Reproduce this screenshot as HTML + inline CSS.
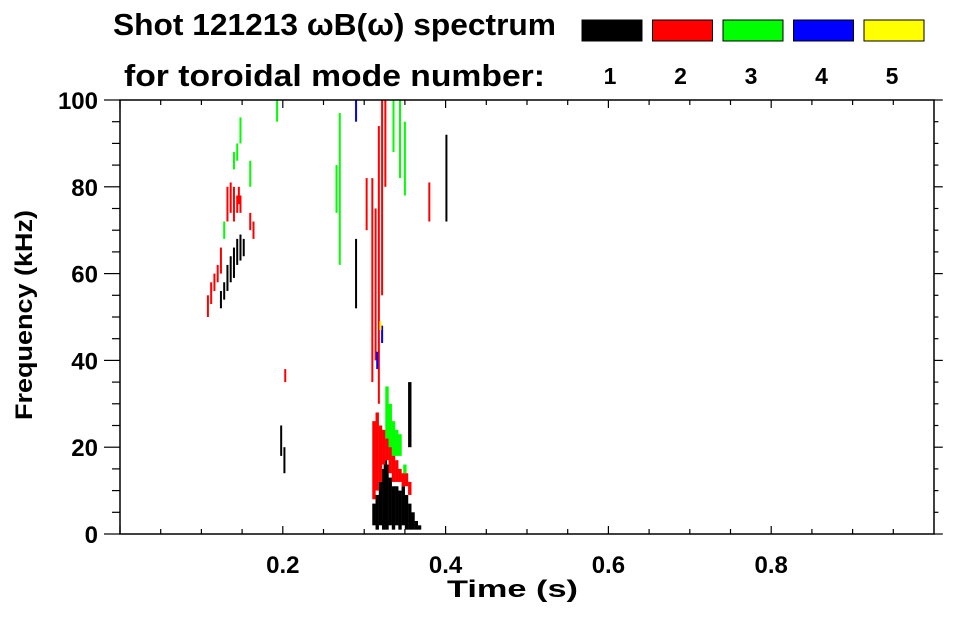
<!DOCTYPE html>
<html><head><meta charset="utf-8"><style>
body{margin:0;background:#fff;width:963px;height:615px;overflow:hidden}
svg{font-family:"Liberation Sans",Arial,sans-serif;font-weight:bold}
</style></head><body>
<svg id="c" width="963" height="615">
<text x="113" y="35" font-size="31" textLength="443" lengthAdjust="spacingAndGlyphs">Shot 121213 ωB(ω) spectrum</text>
<text x="124" y="86" font-size="31" textLength="421" lengthAdjust="spacingAndGlyphs">for toroidal mode number:</text>
<g id="legend"></g>
<g id="marks"></g>
<g id="axes"></g>
<text x="447" y="597" font-size="24" textLength="131" lengthAdjust="spacingAndGlyphs">Time (s)</text>
<text transform="translate(32,315) rotate(-90)" text-anchor="middle" font-size="24" textLength="210" lengthAdjust="spacingAndGlyphs">Frequency (kHz)</text>
</svg>
<script>
const modeColors=["#000","#f00","#0f0","#00f","#ff0"];
const modeLabels=["1","2","3","4","5"];
const xTicks=[0.2,0.4,0.6,0.8];
const yTicks=[0,20,40,60,80,100];
// segments: mode (1-5), time (s), low freq, high freq (kHz)
const segMode=[1,1,1,1,1,1,1,1,1,1,1,1,1,1,1,1,
 2,2,2,2,2,2,2,2,2,2,2,2,
 2,2,2,2,2,
 3,3,3,3,3,3,
 3,3,3,3,3,
 1,1,1,1,1,1,1,1,
 2,2,2,2,2,2,2,2,2,2,2,2,2,
 3,3,3,3,3,3,
 1,1,1,1,1,
 4,4,4,5,2,2,2];
const segTime=[0.312,0.316,0.320,0.324,0.326,0.328,0.332,0.336,0.340,0.344,0.348,0.352,0.356,0.360,0.364,0.368,
 0.312,0.316,0.320,0.324,0.328,0.332,0.336,0.340,0.344,0.348,0.352,0.356,
 0.318,0.322,0.326,0.314,0.310,
 0.328,0.332,0.336,0.340,0.344,0.350,
 0.336,0.344,0.350,0.270,0.266,
 0.124,0.128,0.132,0.136,0.140,0.144,0.148,0.152,
 0.108,0.112,0.116,0.120,0.124,0.132,0.136,0.140,0.144,0.148,0.160,0.164,0.146,
 0.128,0.140,0.144,0.148,0.160,0.193,
 0.198,0.202,0.401,0.290,0.356,
 0.290,0.316,0.322,0.320,0.203,0.380,0.303];
const segLow=[2,1,2,1,2,1,2,1,2,1,2,1,1,1,1,1,
 8,10,12,16,17,14,12,12,12,11,11,9,
 30,55,80,40,35,
 22,20,18,18,18,14,
 88,82,78,62,74,
 52,54,56,58,59,62,63,64,
 50,53,56,58,60,72,74,72,74,74,70,68,76,
 68,84,86,90,80,95,
 18,14,72,52,20,
 95,38,44,47,35,72,70];
const segHigh=[7,9,12,15,17,16,13,11,11,10,11,9,7,5,3,2,
 26,28,25,24,22,22,20,17,15,14,14,12,
 94,100,100,75,82,
 34,30,26,24,23,16,
 100,100,95,97,85,
 56,58,62,64,66,68,69,68,
 55,58,60,62,66,80,81,80,78,78,74,72,80,
 72,88,90,96,86,100,
 25,20,92,68,35,
 100,42,48,49,38,81,82];
const L=120,R=934,T=100,B=534;
const xs=t=>L+t/1.0*(R-L);
const ys=f=>B-f/100*(B-T);
const NS="http://www.w3.org/2000/svg";
function mk(tag,attrs,parent){const e=document.createElementNS(NS,tag);for(const k in attrs)e.setAttribute(k,attrs[k]);parent.appendChild(e);return e;}
const marks=document.getElementById('marks');
for(let i=0;i<segTime.length;i++){
 const band=segTime[i]>0.308&&segTime[i]<0.37&&segHigh[i]<36;
 const w=band?3.4:2;
 const r=mk('rect',{x:xs(segTime[i])-w/2,y:ys(segHigh[i]),width:w,height:ys(segLow[i])-ys(segHigh[i]),fill:modeColors[segMode[i]-1]},marks);
 
 
}
const lg=document.getElementById('legend');
for(let i=0;i<modeColors.length;i++){
 const x=582+i*70.5;
 const b=mk('rect',{x:x,y:20,width:60,height:21,fill:modeColors[i],stroke:'#000','stroke-width':1},lg);
 
 
 const t=mk('text',{x:x+28,y:84,'text-anchor':'middle','font-size':23},lg);t.textContent=modeLabels[i];
 
 
}
const ax=document.getElementById('axes');
mk('rect',{x:L,y:T,width:R-L,height:B-T,fill:'none',stroke:'#000','stroke-width':1.5},ax);
for(let k=0;k<20;k++){const t=k*0.05;const x=xs(t);const len=(k%4===0)?8:5;
 mk('line',{x1:x,x2:x,y1:B,y2:B-len,stroke:'#000','stroke-width':1.2},ax);
 mk('line',{x1:x,x2:x,y1:T,y2:T+len,stroke:'#000','stroke-width':1.2},ax);}
for(const t of xTicks){const tx=mk('text',{x:xs(t),y:573,'text-anchor':'middle','font-size':24},ax);tx.textContent=t.toFixed(1);
 
 }
for(let f=0;f<=100;f+=5){const y=ys(f);const len=(f%20===0)?16:8;
 mk('line',{x1:L,x2:L-len,y1:y,y2:y,stroke:'#000','stroke-width':1.2},ax);
 mk('line',{x1:R,x2:R+len*0.55,y1:y,y2:y,stroke:'#000','stroke-width':1.2},ax);}
for(const f of yTicks){const tx=mk('text',{x:98,y:ys(f)+9,'text-anchor':'end','font-size':24},ax);tx.textContent=f;
 
 }
</script>
</body></html>
